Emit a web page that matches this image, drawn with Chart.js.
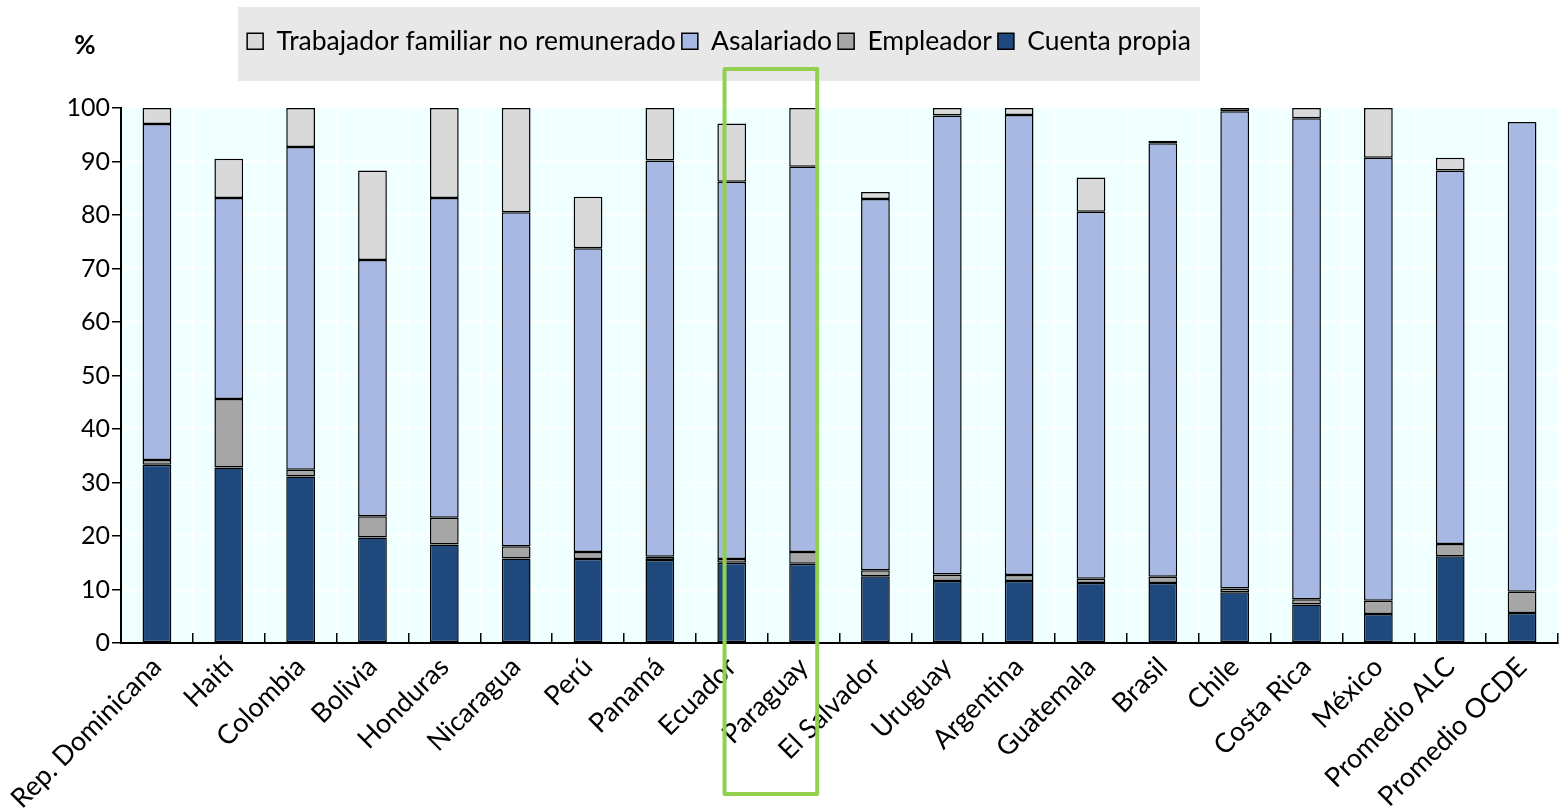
<!DOCTYPE html>
<html>
<head>
<meta charset="utf-8">
<script src="https://cdn.jsdelivr.net/npm/chart.js@4/dist/chart.umd.min.js"></script>
<style>
	html, body { margin: 0; padding: 0; background: #fff; }
	#wrap { width: 1560px; height: 811px; position: relative; }
</style>
</head>
<body>
<div id="wrap"><canvas id="chart"></canvas></div>
<script>
// categories and values (percent of employment)
const countries = [
	"Rep. Dominicana", "Haití", "Colombia", "Bolivia", "Honduras", "Nicaragua",
	"Perú", "Panamá", "Ecuador", "Paraguay", "El Salvador", "Uruguay",
	"Argentina", "Guatemala", "Brasil", "Chile", "Costa Rica", "México",
	"Promedio ALC", "Promedio OCDE",
];
const cuentaPropia = [33.3, 32.8, 31.1, 19.7, 18.4, 15.8, 15.7, 15.5, 15.0, 14.8, 12.5, 11.6, 11.6, 11.2, 11.2, 9.5, 7.2, 5.4, 16.2, 5.6];
const empleador = [0.9, 12.8, 1.3, 4.0, 5.0, 2.3, 1.3, 0.6, 0.7, 2.2, 1.1, 1.2, 1.1, 0.8, 1.2, 0.7, 1.0, 2.5, 2.3, 4.0];
const asalariado = [62.8, 37.6, 60.3, 47.9, 59.8, 62.4, 56.8, 74.1, 70.5, 72.0, 69.4, 85.8, 86.0, 68.6, 81.0, 89.2, 89.9, 82.8, 69.8, 87.8];
const trabajadorFamiliar = [3.0, 7.3, 7.3, 16.7, 16.8, 19.5, 9.6, 9.8, 10.9, 11.0, 1.3, 1.4, 1.3, 6.4, 0.5, 0.6, 1.9, 9.3, 2.4, 0];
const yTicks = [0, 10, 20, 30, 40, 50, 60, 70, 80, 90, 100];

const FONT = "Lato";

// plot background, legend box, "%" label and the green highlight frame
const decor = {
	id: "decor",
	beforeInit(chart) {
		const legend = chart.legend;
		const fit = legend.fit;
		legend.fit = function () {
			fit.call(this);
			this.height = 86;
		};
	},
	afterLayout(chart) {
		chart.legend.left -= 60;
		chart.legend.right -= 60;
	},
	beforeDraw(chart) {
		const { ctx, chartArea } = chart;
		ctx.save();
		ctx.fillStyle = "#f0ffff";
		ctx.fillRect(chartArea.left, chartArea.top, chartArea.right - chartArea.left, chartArea.bottom - chartArea.top);
		const cx = (chart.legend.left + chart.legend.right) / 2;
		ctx.fillStyle = "#e8e8e8";
		ctx.fillRect(cx - 481, 7, 962, 74);
		ctx.restore();
	},
	afterDraw(chart) {
		const { ctx } = chart;
		const x = chart.scales.x;
		ctx.save();
		ctx.fillStyle = "#000";
		ctx.font = `bold 26px ${FONT}`;
		ctx.textAlign = "center";
		ctx.textBaseline = "middle";
		ctx.fillText("%", 85, 46);
		const cat = (x.right - x.left) / countries.length;
		const l = x.getPixelForValue(8) - 0.1 * cat;
		const r = x.getPixelForValue(9) + 0.19 * cat;
		ctx.strokeStyle = "#92d050";
		ctx.lineWidth = 4;
		ctx.lineJoin = "round";
		ctx.strokeRect(l, 69, r - l, 725);
		ctx.restore();
	},
};

const ds = (label, data, color) => ({
	label,
	data,
	backgroundColor: color,
	borderColor: "#000",
	borderWidth: 1.5,
	borderSkipped: false,
	barPercentage: 0.4,
	categoryPercentage: 1,
});

new Chart(document.getElementById("chart"), {
	type: "bar",
	data: {
		labels: countries,
		datasets: [
			ds("Cuenta propia", cuentaPropia, "#1f497d"),
			ds("Empleador", empleador, "#a6a6a6"),
			ds("Asalariado", asalariado, "#a7b9e3"),
			ds("Trabajador familiar no remunerado", trabajadorFamiliar, "#d9d9d9"),
		],
	},
	options: {
		responsive: true,
		maintainAspectRatio: false,
		animation: false,
		layout: { padding: { top: 22, right: 2, left: 0, bottom: 0 } },
		plugins: {
			legend: {
				reverse: true,
				labels: {
					color: "#000",
					font: { family: FONT, size: 26.5 },
					boxWidth: 16,
					boxHeight: 16,
					padding: 6,
					useBorderRadius: false,
				},
			},
			tooltip: { enabled: false },
		},
		scales: {
			x: {
				stacked: true,
				offset: true,
				afterFit: (s) => {
					s.height = 168;
					s.paddingLeft = 0;
					s.paddingRight = 0;
				},
				grid: {
					color: "#ffffff",
					lineWidth: 1.5,
					tickColor: "#000",
					tickLength: -10,
					offset: true,
				},
				border: { color: "#000", width: 2 },
				ticks: {
					color: "#000",
					font: { family: FONT, size: 27 },
					minRotation: 45,
					maxRotation: 45,
					padding: 18,
					autoSkip: false,
				},
			},
			y: {
				stacked: true,
				min: 0,
				max: 100,
				afterFit: (s) => { s.width = 121; },
				afterBuildTicks: (s) => { s.ticks = yTicks.map((v) => ({ value: v })); },
				grid: {
					color: "#ffffff",
					lineWidth: 1.5,
					tickColor: "#000",
					tickLength: 9,
				},
				border: { color: "#000", width: 2 },
				ticks: {
					color: "#000",
					font: { family: FONT, size: 25 },
					padding: 2,
				},
			},
		},
	},
	plugins: [decor],
});
</script>
</body>
</html>
